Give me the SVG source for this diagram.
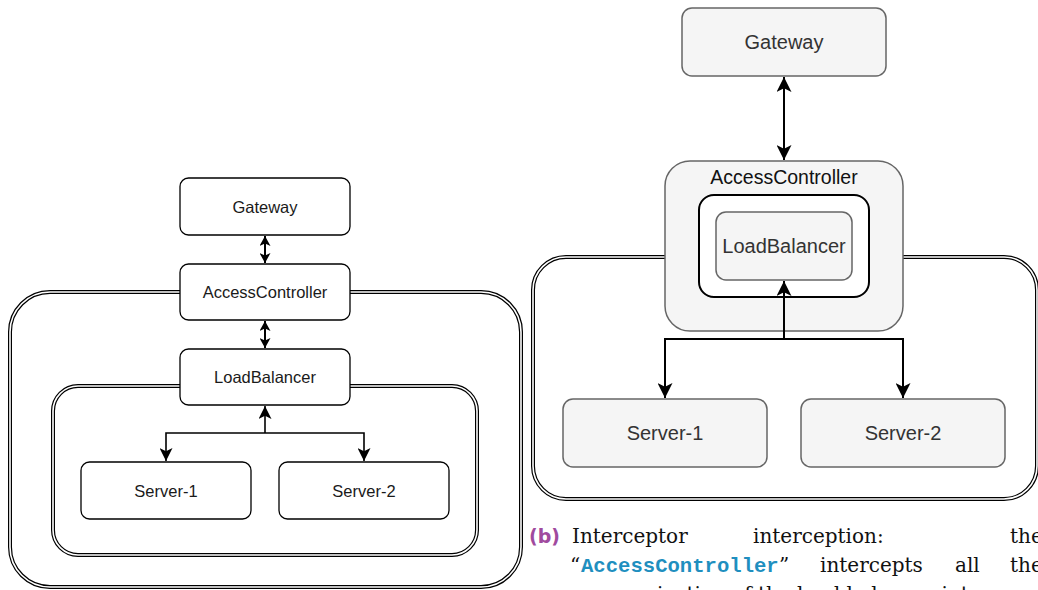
<svg xmlns="http://www.w3.org/2000/svg" width="1038" height="590" viewBox="0 0 1038 590">
  <style>
    .box { fill: #ffffff; stroke: #000000; stroke-width: 1.3; }
    .gbox { fill: #f5f5f5; stroke: #666666; stroke-width: 1.5; }
    .dbl-o { fill: #ffffff; stroke: #000000; stroke-width: 4; }
    .dbl-i { fill: none; stroke: #ffffff; stroke-width: 1.6; }
    .lbl { font-family: "Liberation Sans", Arial, sans-serif; font-size: 16.5px; fill: #1a1a1a; text-anchor: middle; }
    .rlbl { font-family: "Liberation Sans", Arial, sans-serif; font-size: 20px; fill: #333333; text-anchor: middle; }
    .conn { fill: none; stroke: #000000; }
    .cap { font-family: "DejaVu Serif", "Liberation Serif", serif; font-size: 20px; fill: #111111; }
    .capb { font-family: "DejaVu Sans", "Liberation Sans", sans-serif; font-size: 19px; font-weight: bold; fill: #a04a9e; }
    .code { font-family: "Liberation Mono", "DejaVu Sans Mono", monospace; font-size: 20.6px; font-weight: bold; fill: #1f8fbf; }
  </style>
  <defs>
    <marker id="ahS" markerUnits="userSpaceOnUse" markerWidth="10" markerHeight="11" viewBox="0 0 10 10" refX="10" refY="5" orient="auto-start-reverse" preserveAspectRatio="none">
      <path d="M0,0 L10,5 L0,10 L2.5,5 Z" fill="#000"/>
    </marker>
    <marker id="ahM" markerUnits="userSpaceOnUse" markerWidth="13" markerHeight="13" viewBox="0 0 10 10" refX="10" refY="5" orient="auto-start-reverse" preserveAspectRatio="none">
      <path d="M0,0 L10,5 L0,10 L2.5,5 Z" fill="#000"/>
    </marker>
    <marker id="ahL" markerUnits="userSpaceOnUse" markerWidth="15" markerHeight="15" viewBox="0 0 10 10" refX="10" refY="5" orient="auto-start-reverse" preserveAspectRatio="none">
      <path d="M0,0 L10,5 L0,10 L2.5,5 Z" fill="#000"/>
    </marker>
  </defs>

  <!-- ===== Left diagram (a) ===== -->
  <g id="left-outer-container">
    <rect class="dbl-o" x="10" y="292" width="511" height="295" rx="40" ry="40"/>
    <rect class="dbl-i" x="10" y="292" width="511" height="295" rx="40" ry="40"/>
  </g>
  <g id="left-inner-container">
    <rect class="dbl-o" x="53" y="386" width="424" height="169" rx="25" ry="25"/>
    <rect class="dbl-i" x="53" y="386" width="424" height="169" rx="25" ry="25"/>
  </g>

  <g id="left-connectors">
    <path class="conn" stroke-width="2" d="M265,236 L265,263" marker-start="url(#ahS)" marker-end="url(#ahS)"/>
    <path class="conn" stroke-width="2" d="M265,321 L265,348" marker-start="url(#ahS)" marker-end="url(#ahS)"/>
    <path class="conn" stroke-width="1.6" d="M265,433 L265,406" marker-end="url(#ahM)"/>
    <path class="conn" stroke-width="1.6" d="M265,433 L166,433 L166,461" marker-end="url(#ahM)"/>
    <path class="conn" stroke-width="1.6" d="M265,433 L364,433 L364,461" marker-end="url(#ahM)"/>
  </g>

  <g id="left-gateway">
    <rect class="box" x="180" y="178" width="170" height="57" rx="8.5" ry="8.5"/>
    <text class="lbl" x="265" y="212.5">Gateway</text>
  </g>
  <g id="left-accesscontroller">
    <rect class="box" x="180" y="264" width="170" height="56" rx="8.5" ry="8.5"/>
    <text class="lbl" x="265" y="298">AccessController</text>
  </g>
  <g id="left-loadbalancer">
    <rect class="box" x="180" y="349" width="170" height="56" rx="8.5" ry="8.5"/>
    <text class="lbl" x="265" y="383">LoadBalancer</text>
  </g>
  <g id="left-server-1">
    <rect class="box" x="81" y="462" width="170" height="57" rx="8.5" ry="8.5"/>
    <text class="lbl" x="166" y="496.5">Server-1</text>
  </g>
  <g id="left-server-2">
    <rect class="box" x="279" y="462" width="170" height="57" rx="8.5" ry="8.5"/>
    <text class="lbl" x="364" y="496.5">Server-2</text>
  </g>

  <!-- ===== Right diagram (b) ===== -->
  <g id="right-outer-container">
    <rect class="dbl-o" x="533" y="257" width="504" height="242" rx="33" ry="33"/>
    <rect class="dbl-i" x="533" y="257" width="504" height="242" rx="33" ry="33"/>
  </g>

  <g id="right-accesscontroller">
    <rect class="gbox" x="665" y="161" width="238" height="170" rx="25" ry="25"/>
    <text class="rlbl" x="784" y="184" style="font-size:19.5px;fill:#111111">AccessController</text>
  </g>
  <g id="right-interceptor-frame">
    <rect x="699" y="195" width="170" height="102" rx="15" ry="15" fill="#ffffff" stroke="#000000" stroke-width="2"/>
  </g>
  <g id="right-loadbalancer">
    <rect class="gbox" x="716" y="212" width="136" height="68" rx="10" ry="10"/>
    <text class="rlbl" x="784" y="253">LoadBalancer</text>
  </g>
  <g id="right-gateway">
    <rect class="gbox" x="682" y="8" width="204" height="68" rx="10" ry="10"/>
    <text class="rlbl" x="784" y="49">Gateway</text>
  </g>
  <g id="right-server-1">
    <rect class="gbox" x="563" y="399" width="204" height="68" rx="10" ry="10"/>
    <text class="rlbl" x="665" y="440">Server-1</text>
  </g>
  <g id="right-server-2">
    <rect class="gbox" x="801" y="399" width="204" height="68" rx="10" ry="10"/>
    <text class="rlbl" x="903" y="440">Server-2</text>
  </g>

  <g id="right-connectors">
    <path class="conn" stroke-width="2" d="M784,77 L784,160" marker-start="url(#ahL)" marker-end="url(#ahL)"/>
    <path class="conn" stroke-width="2" d="M784,339 L784,281" marker-end="url(#ahL)"/>
    <path class="conn" stroke-width="2" d="M784,339 L665,339 L665,398" marker-end="url(#ahL)"/>
    <path class="conn" stroke-width="2" d="M784,339 L903,339 L903,398" marker-end="url(#ahL)"/>
  </g>

  <!-- ===== Caption ===== -->
  <g id="caption">
    <text class="capb" x="529" y="543">(b)</text>
    <text class="cap" x="572" y="543">Interceptor</text>
    <text class="cap" x="753" y="543">interception:</text>
    <text class="cap" x="1010" y="543">the</text>
    <text class="cap" x="570" y="572">“</text>
    <text class="code" x="581" y="572">AccessController</text>
    <text class="cap" x="779" y="572">”</text>
    <text class="cap" x="820" y="572">intercepts</text>
    <text class="cap" x="955" y="572">all</text>
    <text class="cap" x="1010" y="572">the</text>
    <text class="cap" x="570" y="601">communication of the load balancer intercep</text>
  </g>
</svg>
